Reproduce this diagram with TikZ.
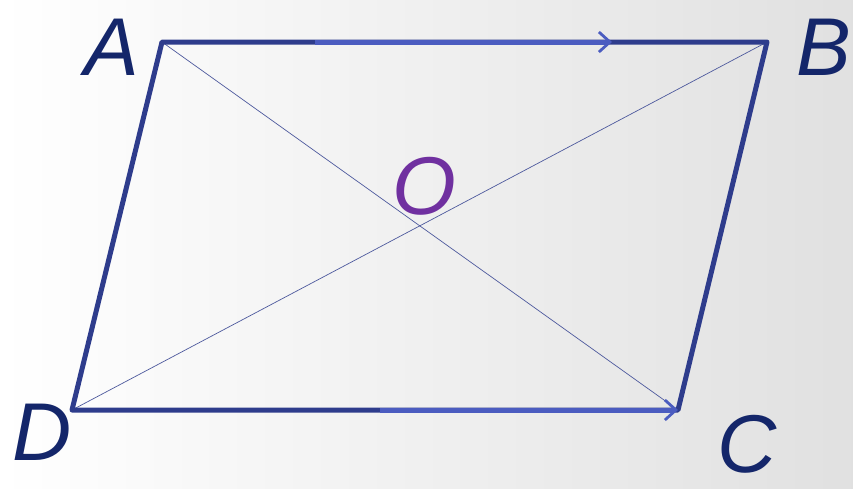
\documentclass[tikz,border=0pt]{standalone}
\usepackage{fontspec}
\setmainfont{Liberation Sans}
\usetikzlibrary{arrows.meta}
\definecolor{edgedark}{HTML}{2E3C8C}
\definecolor{edgelight}{HTML}{4B5CC0}
\definecolor{labelnavy}{HTML}{14266A}
\definecolor{opurple}{HTML}{7030A0}
\tikzset{
  side/.style={draw=edgedark, line width=5pt, line cap=round, line join=round},
  vec/.style={draw=edgelight, line width=5pt, -{Straight Barb[length=11pt,width=20pt,line width=2.8pt]}},
  diag/.style={draw=edgedark!85, line width=0.7pt},
  lab/.style={font=\fontsize{82}{82}\selectfont\itshape, text=labelnavy, inner sep=0pt, text depth=0pt}
}
\begin{document}
\begin{tikzpicture}[x=1pt,y=-1pt]
\useasboundingbox (0,0) rectangle (853,488);
\shade[left color=white, right color=black!12] (0,0) rectangle (853,488);
\coordinate (A) at (162,42);
\coordinate (B) at (767,42);
\coordinate (C) at (678,410);
\coordinate (D) at (72,410);
\coordinate (Am) at (315,42);
\coordinate (Ab) at (612,42);
\coordinate (Dm) at (380,410);
\draw[diag] (A) -- (C);
\draw[diag] (B) -- (D);
\draw[side] (A) -- (B) -- (C) -- (D) -- cycle;
\draw[vec] (Am) -- (Ab);
\draw[vec] (Dm) -- (C);
\node[lab] (la) at (112,47) {A};
\node[lab] (lb) at (824,47) {B};
\node[lab] (lc) at (747,444) {C};
\node[lab] (ld) at (42,432) {D};
\node[lab, text=opurple] (lo) at (424,186) {O};
\end{tikzpicture}
\end{document}
